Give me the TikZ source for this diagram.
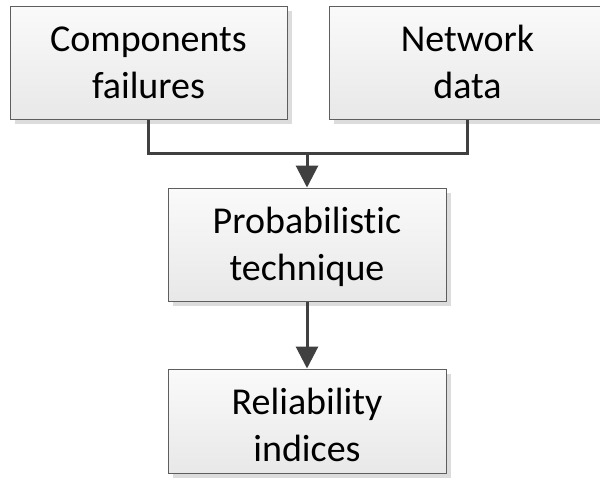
\documentclass[tikz,border=0pt]{standalone}
\usepackage{fontspec}
\setmainfont{Carlito}[Ligatures=NoCommon]
\usetikzlibrary{arrows.meta,shadows}
\definecolor{boxborder}{HTML}{5E5E5E}
\definecolor{boxtop}{HTML}{FAFAFA}
\definecolor{boxbot}{HTML}{E8E8E8}
\definecolor{shadowgray}{HTML}{DCDCDC}
\definecolor{linegray}{HTML}{404040}
\newcommand\bxt[4]{\rule{0pt}{#3pt}#1\\#2\rule[-#4pt]{0pt}{#4pt}}
\begin{document}
\begin{tikzpicture}[x=1pt,y=-1pt,
  box/.style={draw=boxborder, line width=1pt, top color=boxtop, bottom color=boxbot,
    minimum width=277pt, minimum height=113pt, inner sep=0pt, align=center,
    font=\fontsize{38}{47}\selectfont,
    drop shadow={shadow xshift=5pt, shadow yshift=-5pt, fill=shadowgray, opacity=1}},
  conn/.style={draw=linegray, line width=3pt},
  arr/.style={conn, -{Triangle[width=22pt,length=22pt]}, fill=linegray}]
\useasboundingbox (0,0) rectangle (600,485);
\node[box] (cf) at (148.5,62.5) {\bxt{Components}{failures}{33}{9}};
\node[box] (nd) at (467.5,62.5) {\bxt{Network}{data}{33}{9}};
\node[box, minimum width=278pt] (pt) at (307,244.5) {\bxt{Probabilistic}{technique}{33}{9}};
\node[box, minimum width=278pt, minimum height=104pt] (ri) at (307,421) {\bxt{Reliability}{indices}{36}{3}};
\coordinate (j) at (307,153);
\draw[conn] (cf.south) |- (j) -| (nd.south);
\draw[arr] (j) -- (pt.north);
\draw[arr] (pt.south) -- (ri.north);
\end{tikzpicture}
\end{document}
